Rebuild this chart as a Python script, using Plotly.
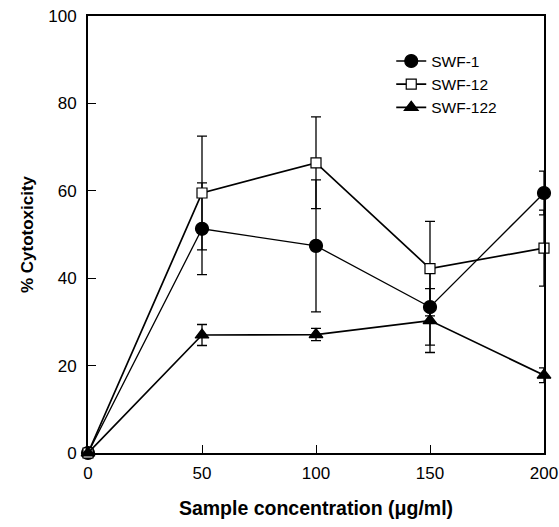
import plotly.graph_objects as go

conc = [0, 50, 100, 150, 200]

swf1 = [0, 51.3, 47.4, 33.4, 59.5]
swf1_err = [0, 10.5, 15.1, 8.7, 5.0]

swf12 = [0, 59.5, 66.4, 42.2, 46.9]
swf12_err = [0, 13.0, 10.5, 10.8, 8.7]

swf122 = [0, 27.0, 27.1, 30.3, 17.8]
swf122_err = [0, 2.4, 1.4, 7.3, 1.7]

y_ticks = [0, 20, 40, 60, 80, 100]
x_ticks = [0, 50, 100, 150, 200]

FONT = "Liberation Sans, Arial, sans-serif"

fig = go.Figure()

def add(name, y, err, symbol, size, fill, lw):
    fig.add_trace(go.Scatter(
        x=conc, y=y, name=name, mode="lines+markers",
        line=dict(color="black", width=lw),
        marker=dict(symbol=symbol, size=size, color=fill,
                    line=dict(color="black", width=1.2)),
        error_y=dict(type="data", array=err, visible=True,
                     color="black", thickness=1.3, width=5),
        cliponaxis=False,
    ))

add("SWF-1", swf1, swf1_err, "circle", 13, "black", 1.3)
add("SWF-12", swf12, swf12_err, "square", 10, "white", 1.7)
add("SWF-122", swf122, swf122_err, "triangle-up", 12, "black", 1.7)

fig.update_layout(
    width=559, height=527,
    margin=dict(l=88, r=15, t=16, b=74, autoexpand=False),
    plot_bgcolor="white", paper_bgcolor="white",
    font=dict(family=FONT, size=17, color="black"),
    showlegend=True,
    legend=dict(x=0.665, y=0.935, xanchor="left", yanchor="top",
                bgcolor="rgba(0,0,0,0)", font=dict(size=15.5),
                tracegroupgap=0),
)
fig.update_xaxes(
    range=[0, 200], tickvals=x_ticks, ticks="inside", ticklen=8,
    tickwidth=1.3, tickcolor="black", showline=True, linecolor="black",
    linewidth=2, mirror=True, showgrid=False, zeroline=False,
    automargin=False, ticklabelstandoff=4,
    title=dict(text="<b>Sample concentration (μg/ml)</b>", font=dict(size=19.5), standoff=19),
)
fig.update_yaxes(
    range=[0, 100], tickvals=y_ticks, ticks="inside", ticklen=8,
    tickwidth=1.3, tickcolor="black", showline=True, linecolor="black",
    linewidth=2, mirror=True, showgrid=False, zeroline=False,
    automargin=False, ticklabelstandoff=6,
    title=dict(text="<b>% Cytotoxicity</b>", font=dict(size=17), standoff=10),
)

fig.write_html("out.html", config={"displayModeBar": False},
               post_script="document.body.style.margin='0';")
